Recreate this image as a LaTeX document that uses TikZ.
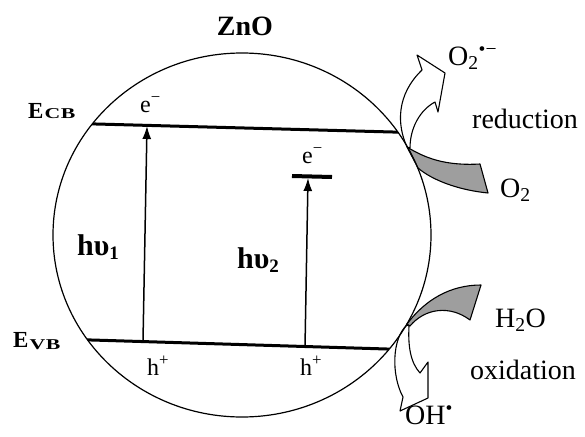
\documentclass[tikz,border=0pt]{standalone}
\usepackage{fontspec}
\setmainfont{Liberation Serif}
\usetikzlibrary{arrows.meta}
\begin{document}
\begin{tikzpicture}[x=1pt,y=-1pt,
  lvl/.style={line width=3pt},
  exc/.style={line width=1.5pt,-{Latex[length=13pt,width=9pt]}},
  ring/.style={line width=1.2pt},
  blockarrow/.style={line width=1.1pt, fill=white, line join=round},
  band/.style={line width=1.1pt, fill=black!38, line join=round},
  lab/.style={inner sep=0pt, anchor=base west, font=\fontsize{28}{30}\selectfont},
  small/.style={inner sep=0pt, anchor=base west, font=\fontsize{24}{26}\selectfont},
  bigb/.style={inner sep=0pt, anchor=base west, font=\fontsize{30}{32}\selectfont\bfseries},
  elab/.style={inner sep=0pt, anchor=base west, font=\fontsize{23}{24}\selectfont\bfseries},
]
\useasboundingbox (0,0) rectangle (585,436);
\fill[white] (0,0) rectangle (585,436);

% reaction bands (grey)
\draw[band] (407,147) .. controls (425,158) and (445,166) .. (480,164) -- (488,193)
  .. controls (458,190) and (432,180) .. (418,168) -- cycle;
\draw[band] (407,324) .. controls (425,300) and (450,285) .. (481,285) -- (470,320)
  .. controls (450,305) and (425,308) .. (410,326) -- cycle;
% white curved arrows
\draw[blockarrow] (407,147) .. controls (397,125) and (396,95) .. (422,70) -- (417,55)
  -- (445,73) -- (438,112) -- (435,102) .. controls (420,110) and (410,128) .. (410,148) -- cycle;
\draw[blockarrow] (407,325) .. controls (392,338) and (391,375) .. (403,397) -- (400,411)
  -- (428,398) -- (428,362) -- (420,373) .. controls (410,362) and (408,345) .. (409,326) -- cycle;

% particle
\draw[ring] (242,235) ellipse [x radius=189pt, y radius=182pt];
\begin{scope}
  \clip (242,235) ellipse [x radius=189pt, y radius=182pt];
  \draw[lvl] (85,123.7) -- (400,132.2);
  \draw[lvl] (85,339.8) -- (400,349.4);
\end{scope}
\draw[line width=4pt] (292,176) -- (332,177);

% excitation arrows
\coordinate (v1) at (143,341);
\coordinate (c1) at (147,126);
\coordinate (v2) at (305,347);
\coordinate (c2) at (308,178);
\draw[exc] (v1) -- (c1);
\draw[exc] (v2) -- (c2);

% labels
\node[inner sep=0pt, font=\fontsize{28}{30}\selectfont\bfseries] (zno) at (245,26) {ZnO};
\node[elab] (ecb) at (28,118) {E\kern1pt\scalebox{1.45}[1]{\fontsize{15}{16}\selectfont C\kern0.5pt B}};
\node[elab] (evb) at (13,347) {E\kern1pt\raisebox{-2pt}{\scalebox{1.45}[1]{\fontsize{15}{16}\selectfont V\kern0.5pt B}}};
\node[small] (e1) at (140,112) {e\textsuperscript{−}};
\node[small] (e2) at (302,163) {e\textsuperscript{−}};
\node[small] (h1) at (147,375) {h\textsuperscript{+}};
\node[small] (h2) at (300,375) {h\textsuperscript{+}};
\node[bigb] (hv1) at (77,255) {hυ\raisebox{-4pt}{\fontsize{19}{20}\selectfont 1}};
\node[bigb] (hv2) at (237,268) {hυ\raisebox{-4pt}{\fontsize{19}{20}\selectfont 2}};

\node[lab] (o2r) at (448,65) {O\textsubscript{2}\textsuperscript{•−}};
\node[lab] (red) at (472,128) {reduction};
\node[lab] (o2) at (500,197) {O\textsubscript{2}};
\node[lab] (h2o) at (495,327) {H\textsubscript{2}O};
\node[lab] (ox) at (470,379) {oxidation};
\node[lab] (oh) at (405,424) {OH\textsuperscript{•}};
\end{tikzpicture}
\end{document}
